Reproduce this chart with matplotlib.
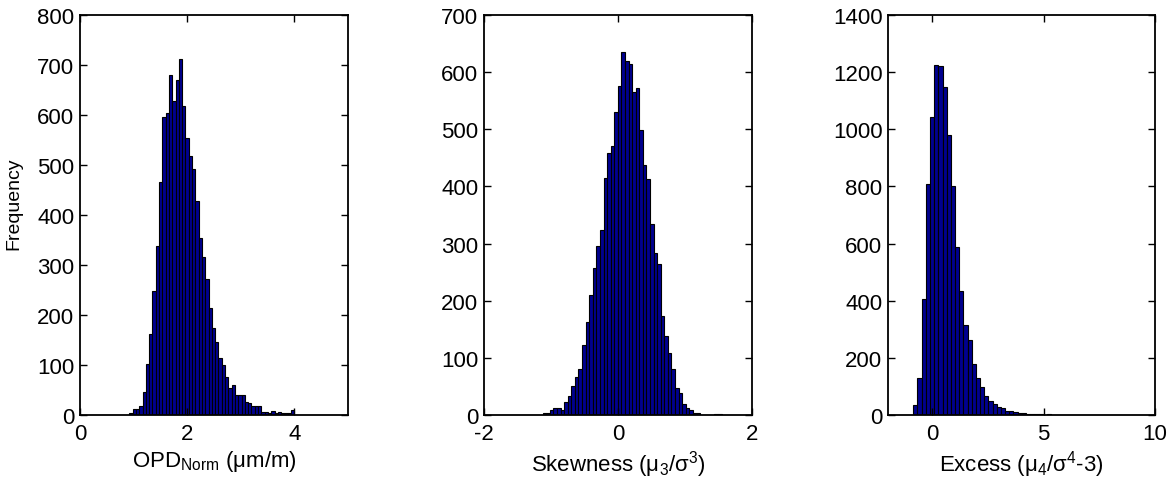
import numpy as np
import matplotlib
matplotlib.use("Agg")
import matplotlib.pyplot as plt

plt.rcParams['font.family'] = ['Liberation Sans', 'DejaVu Sans']
plt.rcParams['mathtext.fontset'] = 'custom'
plt.rcParams['mathtext.rm'] = 'Liberation Sans'
plt.rcParams['mathtext.it'] = 'Liberation Sans:italic'
plt.rcParams['mathtext.bf'] = 'Liberation Sans:bold'
plt.rcParams['axes.unicode_minus'] = False

# ---- data (histogram counts, 50 bins each) ----
opd_range = (0.92, 4.00)
opd_counts = [5, 12, 12, 19, 47, 102, 162, 249, 339, 467,
              597, 605, 680, 629, 670, 712, 619, 555, 519, 492,
              429, 355, 316, 272, 215, 174, 147, 115, 101, 77,
              55, 61, 40, 40, 40, 27, 25, 19, 19, 19,
              7, 7, 5, 8, 5, 7, 5, 5, 5, 10]

skew_range = (-1.124, 1.546)
skew_counts = [3, 3, 9, 13, 13, 8, 23, 34, 51, 66,
               81, 123, 162, 210, 258, 295, 323, 414, 458, 470,
               530, 575, 635, 620, 614, 566, 572, 499, 437, 413,
               334, 283, 264, 173, 138, 109, 80, 48, 38, 20,
               12, 8, 4, 4, 0, 0, 0, 0, 1, 2]

excess_range = (-0.863, 8.517)
excess_counts = [34, 128, 407, 807, 1043, 1225, 1222, 1149, 979, 802,
                 589, 434, 314, 262, 177, 128, 99, 67, 49, 39,
                 27, 26, 15, 14, 9, 8, 6, 3, 3, 2,
                 2, 1, 2, 1, 1, 0, 1, 1, 0, 0,
                 1, 0, 0, 1, 0, 1, 1, 0, 0, 1]

xlabels = [r'OPD$_{\mathrm{Norm}}$ (μm/m)',
           r'Skewness (μ$_{3}$/σ$^{3}$)',
           r'Excess (μ$_{4}$/σ$^{4}$-3)']
xlims = [(0, 5), (-2, 2), (-2, 10)]
xticks = [[0, 2, 4], [-2, 0, 2], [0, 5, 10]]
ylims = [(0, 800), (0, 700), (0, 1400)]
yticks = [np.arange(0, 801, 100), np.arange(0, 701, 100), np.arange(0, 1401, 200)]

fig = plt.figure(figsize=(11.72, 4.85), dpi=100)
W, H = 1172.0, 485.0
lefts = [80, 484, 888]
widths = [268, 268, 267]
bottom_px, top_px = 416, 16

datasets = [(opd_range, opd_counts), (skew_range, skew_counts), (excess_range, excess_counts)]

for i, ((rng, counts), xl) in enumerate(zip(datasets, xlabels)):
    ax = fig.add_axes([lefts[i] / W, (H - bottom_px) / H, widths[i] / W, (bottom_px - top_px) / H])
    counts = np.asarray(counts, dtype=float)
    edges = np.linspace(rng[0], rng[1], len(counts) + 1)
    centers = 0.5 * (edges[:-1] + edges[1:])
    ax.bar(centers, counts, width=edges[1] - edges[0], align='center',
           color='#00008F', edgecolor='black', linewidth=0.8)
    ax.set_xlim(*xlims[i])
    ax.set_ylim(*ylims[i])
    ax.set_xticks(xticks[i])
    ax.set_yticks(yticks[i])
    ax.tick_params(direction='in', top=True, right=True, length=5, width=1.0,
                   labelsize=16, colors='black')
    ax.tick_params(axis='x', pad=6)
    ax.tick_params(axis='y', pad=4)
    for sp in ax.spines.values():
        sp.set_linewidth(1.3)
    ax.set_xlabel(xl, fontsize=16, labelpad=3)
    if i == 0:
        ax.set_ylabel('Frequency', fontsize=14)
        ax.yaxis.set_label_coords(-58.0 / widths[i], 0.53)

fig.savefig('out.png', dpi=100)
